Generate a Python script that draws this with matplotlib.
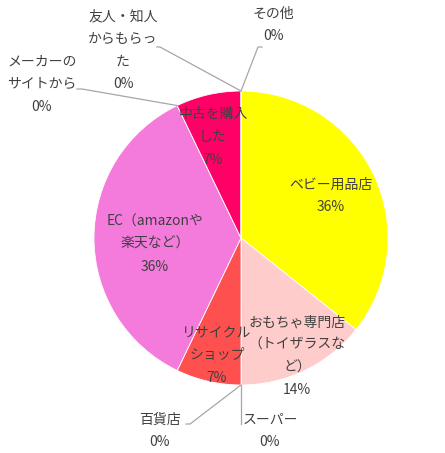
import matplotlib
matplotlib.use('Agg')
import matplotlib.pyplot as plt
import numpy as np

plt.rcParams['font.family'] = ['Noto Sans CJK JP', 'DejaVu Sans']

# survey counts, clockwise from the top
labels = ['ベビー用品店', 'おもちゃ専門店\n（トイザラスな\nど）', 'スーパー', '百貨店',
          'リサイクル\nショップ', 'EC（amazonや\n楽天など）', 'メーカーの\nサイトから',
          '中古を購入\nした', '友人・知人\nからもらっ\nた', 'その他']
counts = [5, 2, 0, 0, 1, 5, 0, 1, 0, 0]
colors = ['#FFFF00', '#FFCCCC', '#FFFFFF', '#FFFFFF', '#FF5050', '#F47ADC',
          '#FFFFFF', '#FF0066', '#FFFFFF', '#FFFFFF']

# label centres in pixels (x, y from top) for the slices, and leader line elbows
label_px = [(331, 196), (297, 356), (270, 431), (160, 431), (217, 355),
            (155, 244), (42, 84), (213, 137), (123, 50), (273, 25)]
elbow_px = {2: [(241, 424), (241, 424)], 3: [(190, 424), (186, 424)],
            6: [(82, 89), (77, 89)], 8: [(160, 47), (157, 47)],
            9: [(258, 47), (262, 47)]}

W, H = 445, 453
R = 147.0
CX, CY = 241, 238

fig = plt.figure(figsize=(W / 100, H / 100), dpi=100)
ax = fig.add_axes([0, 0, 1, 1])

wedges, _ = ax.pie(counts, colors=colors, startangle=90, counterclock=False,
                   radius=1, center=(0, 0),
                   wedgeprops=dict(linewidth=0.6, edgecolor='white'))
ax.set_xlim(-CX / R, (W - CX) / R)
ax.set_ylim(-(H - CY) / R, CY / R)
ax.set_aspect('equal')
ax.axis('off')


def px(p):
    return ((p[0] - CX) / R, (CY - p[1]) / R)


total = sum(counts)
for i, (lab, c) in enumerate(zip(labels, counts)):
    pct = '%d%%' % round(100 * c / total)
    x, y = px(label_px[i])
    ax.text(x, y, lab + '\n' + pct, ha='center', va='center', fontsize=10,
            color='#404040', linespacing=1.78)
    if i in elbow_px:
        w = wedges[i]
        ang = np.deg2rad(w.theta1)
        start = (np.cos(ang), np.sin(ang))
        pts = [start] + [px(p) for p in elbow_px[i]]
        ax.plot([p[0] for p in pts], [p[1] for p in pts], color='#A6A6A6', lw=0.9)

fig.savefig('out.png', dpi=100)
